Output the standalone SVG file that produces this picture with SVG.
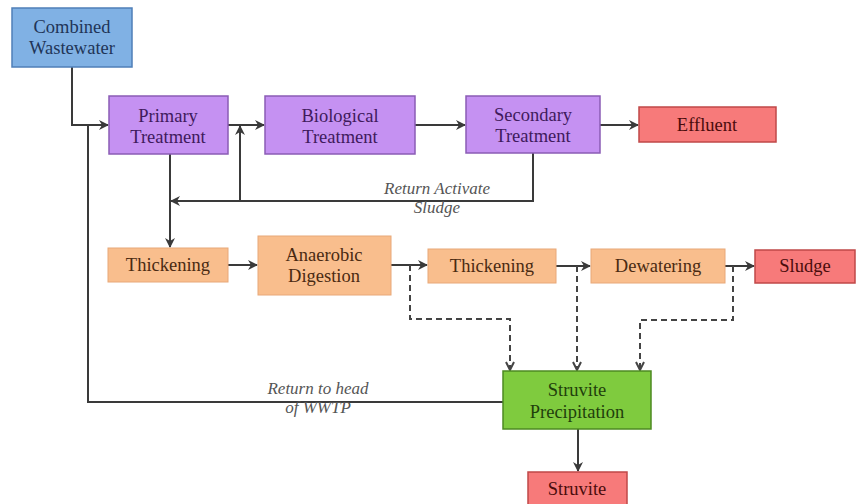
<svg xmlns="http://www.w3.org/2000/svg" width="857" height="504" viewBox="0 0 857 504">
<defs>
<marker id="ah" viewBox="0 0 10 10" refX="9" refY="5" markerWidth="5" markerHeight="5" orient="auto" markerUnits="strokeWidth">
<path d="M0,0 L10,5 L0,10 L3,5 Z" fill="#3a3a3a"/>
</marker>
<marker id="ao" viewBox="0 0 10 10" refX="9" refY="5" markerWidth="5" markerHeight="5" orient="auto" markerUnits="strokeWidth">
<path d="M1,1 L9,5 L1,9" fill="none" stroke="#444" stroke-width="2"/>
</marker>
</defs>
<rect width="857" height="504" fill="#fff"/>
<g id="connectors" fill="none" stroke="#3a3a3a" stroke-width="2">
<path d="M72,67 V125 H108" marker-end="url(#ah)"/>
<path d="M503,402 H88 V125"/>
<path d="M228,125 H264" marker-end="url(#ah)"/>
<path d="M415,125 H465" marker-end="url(#ah)"/>
<path d="M600,125 H638" marker-end="url(#ah)"/>
<path d="M533,153 V201 H171" marker-end="url(#ah)"/>
<path d="M240,201 V126" marker-end="url(#ah)"/>
<path d="M170,154 V247" marker-end="url(#ah)"/>
<path d="M228,265 H257" marker-end="url(#ah)"/>
<path d="M391,265 H427" marker-end="url(#ah)"/>
<path d="M556,266 H590" marker-end="url(#ah)"/>
<path d="M725,266 H754" marker-end="url(#ah)"/>
<g stroke="#444" stroke-dasharray="6 4">
<path d="M410,265 V319 H510 V370" marker-end="url(#ao)"/>
<path d="M577,266 V370" marker-end="url(#ao)"/>
<path d="M733,266 V320 H640 V370" marker-end="url(#ao)"/>
</g>
<path d="M578,429 V471" marker-end="url(#ah)"/>
</g>
<g font-family="Liberation Serif, serif" font-size="18.5" text-anchor="middle" stroke-width="1.5">
<g id="combined"><rect fill="#80b1e4" stroke="#4f7fb8" x="12" y="8" width="120" height="59"/><text fill="#1f3558" x="72" y="33">Combined</text><text fill="#1f3558" x="72" y="54">Wastewater</text></g>
<g id="primary"><rect fill="#c591f2" stroke="#8a5cb5" x="109" y="96" width="119" height="58"/><text fill="#3f1a5c" x="168" y="122">Primary</text><text fill="#3f1a5c" x="168" y="143">Treatment</text></g>
<g id="biological"><rect fill="#c591f2" stroke="#8a5cb5" x="265" y="96" width="150" height="58"/><text fill="#3f1a5c" x="340" y="122">Biological</text><text fill="#3f1a5c" x="340" y="143">Treatment</text></g>
<g id="secondary"><rect fill="#c591f2" stroke="#8a5cb5" x="466" y="96" width="134" height="57"/><text fill="#3f1a5c" x="533" y="121">Secondary</text><text fill="#3f1a5c" x="533" y="142">Treatment</text></g>
<g id="effluent"><rect fill="#f77a7a" stroke="#c04848" x="639" y="107" width="137" height="35"/><text fill="#4a0c0c" x="707" y="131">Effluent</text></g>
<g id="thickening1"><rect fill="#f9be8d" stroke="#e8a878" stroke-width="1" x="108" y="248" width="120" height="34"/><text fill="#4a2a12" x="168" y="271">Thickening</text></g>
<g id="anaerobic"><rect fill="#f9be8d" stroke="#e8a878" stroke-width="1" x="258" y="236" width="133" height="59"/><text fill="#4a2a12" x="324" y="261">Anaerobic</text><text fill="#4a2a12" x="324" y="282">Digestion</text></g>
<g id="thickening2"><rect fill="#f9be8d" stroke="#e8a878" stroke-width="1" x="428" y="249" width="128" height="34"/><text fill="#4a2a12" x="492" y="272">Thickening</text></g>
<g id="dewatering"><rect fill="#f9be8d" stroke="#e8a878" stroke-width="1" x="591" y="249" width="134" height="34"/><text fill="#4a2a12" x="658" y="272">Dewatering</text></g>
<g id="sludge"><rect fill="#f77a7a" stroke="#c04848" x="755" y="250" width="100" height="33"/><text fill="#4a0c0c" x="805" y="272">Sludge</text></g>
<g id="struviteprecip"><rect fill="#7fcb3e" stroke="#4d8a22" x="503" y="371" width="148" height="58"/><text fill="#1f3f0c" x="577" y="396">Struvite</text><text fill="#1f3f0c" x="577" y="418">Precipitation</text></g>
<g id="struvite"><rect fill="#f77a7a" stroke="#c04848" x="528" y="472" width="99" height="34"/><text fill="#4a0c0c" x="577" y="495">Struvite</text></g>
<g id="labels" font-size="17" font-style="italic" fill="#555">
<text x="437" y="194">Return Activate</text>
<text x="437" y="213">Sludge</text>
<text x="318" y="394">Return to head</text>
<text x="318" y="413">of WWTP</text>
</g>
</g>
</svg>
